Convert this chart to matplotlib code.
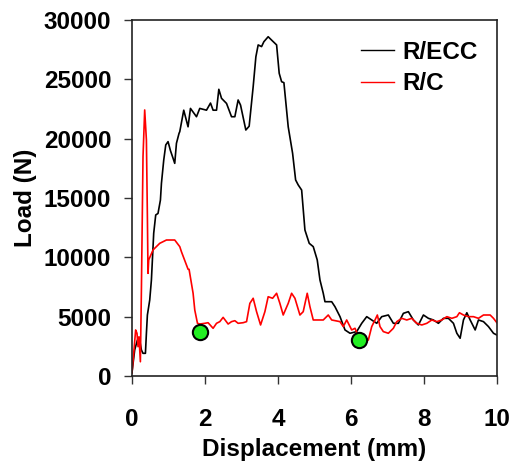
import matplotlib
matplotlib.use("Agg")
import matplotlib.pyplot as plt

plt.rcParams['font.family'] = ['Liberation Sans', 'DejaVu Sans']
plt.rcParams['font.weight'] = 'bold'

# R/ECC curve
ecc_x = [0.0, 0.074, 0.148, 0.184, 0.211, 0.258, 0.302, 0.368, 0.395, 0.422, 0.486, 0.532,
         0.595, 0.650, 0.713, 0.779, 0.807, 0.870, 0.925, 0.988, 1.053, 1.125, 1.171, 1.218,
         1.289, 1.309, 1.418, 1.536, 1.602, 1.767, 1.857, 2.041, 2.151, 2.222, 2.316, 2.379,
         2.453, 2.590, 2.727, 2.818, 2.908, 2.974, 3.119, 3.210, 3.320, 3.394, 3.457, 3.550,
         3.613, 3.731, 3.824, 3.915, 3.962, 4.033, 4.099, 4.162, 4.280, 4.400, 4.483, 4.554,
         4.648, 4.738, 4.856, 4.966, 5.075, 5.150, 5.240, 5.287, 5.471, 5.561, 5.699, 5.836,
         5.973, 6.156, 6.294, 6.431, 6.568, 6.705, 6.842, 7.023, 7.161, 7.298, 7.435, 7.572,
         7.709, 7.846, 7.984, 8.121, 8.258, 8.395, 8.532, 8.669, 8.807, 8.900, 8.990, 9.081,
         9.174, 9.265, 9.402, 9.492, 9.630, 9.767, 9.904, 9.997]
ecc_y = [300, 2190, 3030, 2700, 3030, 2190, 1910, 1910, 3600, 5140, 6400, 8090,
         12030, 13570, 13700, 14830, 16240, 18200, 19470, 19750, 19000, 18350, 17920, 19610,
         20450, 20590, 22400, 21000, 22550, 21850, 22550, 22400, 23000, 22400, 22400, 24160,
         23400, 22970, 21850, 21850, 23260, 22830, 20730, 21050, 24380, 26900, 27900, 27760,
         28170, 28590, 28310, 28040, 27900, 25510, 24800, 24720, 21000, 18770, 16520, 16100,
         15670, 12300, 11180, 10900, 9780, 8090, 6970, 6260, 6260, 5840, 5000, 3880,
         3600, 3740, 4440, 5000, 4720, 4440, 5000, 5140, 4440, 4440, 5280, 5420,
         4720, 4300, 5140, 4860, 4720, 4440, 4860, 4860, 4440, 3600, 3180, 4720,
         5330, 4720, 3880, 4720, 4580, 4160, 3600, 3450]

# R/C curve
rc_x = [0.0, 0.055, 0.100, 0.137, 0.165, 0.192, 0.230, 0.258, 0.302, 0.348, 0.395, 0.422,
        0.439, 0.458, 0.576, 0.760, 0.944, 1.125, 1.171, 1.309, 1.355, 1.536, 1.564, 1.674,
        1.720, 1.794, 1.857, 1.995, 2.085, 2.222, 2.316, 2.406, 2.497, 2.634, 2.727, 2.818,
        2.908, 3.045, 3.139, 3.229, 3.320, 3.413, 3.523, 3.641, 3.731, 3.852, 3.962, 4.052,
        4.143, 4.280, 4.373, 4.464, 4.601, 4.691, 4.801, 4.875, 4.966, 5.240, 5.377, 5.471,
        5.699, 5.789, 5.882, 6.019, 6.110, 6.247, 6.475, 6.568, 6.658, 6.722, 6.795, 6.886,
        7.023, 7.161, 7.254, 7.391, 7.528, 7.665, 7.802, 7.940, 8.077, 8.214, 8.351, 8.488,
        8.626, 8.763, 8.900, 8.971, 9.081, 9.218, 9.355, 9.492, 9.630, 9.813, 9.904, 9.997]
rc_y = [250, 2190, 3880, 3600, 2470, 3300, 1200, 7250, 18480, 22420, 19890, 13420,
        8650, 9780, 10620, 11180, 11460, 11460, 11460, 10900, 10470, 9000, 8990, 6970,
        5560, 4440, 4380, 4440, 4490, 4020, 4440, 4580, 4940, 4380, 4580, 4660,
        4440, 4490, 4580, 6120, 6550, 5420, 4300, 5420, 6680, 6550, 6970, 6120,
        5140, 6120, 6970, 6550, 5140, 5420, 6970, 5840, 4720, 4720, 5140, 4720,
        4580, 4160, 4720, 3880, 4020, 3030, 3030, 4160, 4720, 5140, 4160, 3740,
        3600, 4020, 4580, 4860, 4720, 4860, 4440, 4300, 4440, 4720, 4580, 4720,
        5000, 4860, 5000, 5330, 5140, 5000, 5000, 4860, 5140, 5140, 4860, 4490]

# green markers
mark_x = [1.87, 6.21]
mark_y = [3680, 3030]

xticks = [0, 2, 4, 6, 8, 10]
yticks = [0, 5000, 10000, 15000, 20000, 25000, 30000]

fig = plt.figure(figsize=(5.10, 4.61), dpi=100)
ax = fig.add_axes([0.2588, 0.1844, 0.7157, 0.7722])

ax.plot(ecc_x, ecc_y, color='black', lw=1.2, label='R/ECC')
ax.plot(rc_x, rc_y, color='red', lw=1.2, label='R/C')
ax.plot(mark_x, mark_y, 'o', color='#22ee22', markeredgecolor='black',
        markeredgewidth=1.5, markersize=11, zorder=5)

ax.set_xlim(0, 10)
ax.set_ylim(0, 30000)
ax.set_xticks(xticks)
ax.set_yticks(yticks)
ax.set_xticklabels([str(v) for v in xticks], fontsize=17.5, fontweight='bold')
ax.set_yticklabels([str(v) for v in yticks], fontsize=17.5, fontweight='bold')
ax.tick_params(axis='both', direction='out', length=6, width=1.0, color='#333333')
ax.tick_params(axis='y', pad=9)
ax.tick_params(axis='x', pad=17)
for s in ax.spines.values():
    s.set_linewidth(1.2)
    s.set_color('#222222')

ax.set_xlabel('Displacement (mm)', fontsize=17.5, fontweight='bold', labelpad=5)
ax.set_ylabel('Load (N)', fontsize=17.5, fontweight='bold', labelpad=5)

leg = ax.legend(loc='upper right', frameon=False, fontsize=17.5, handlelength=1.35,
                handletextpad=0.35, labelspacing=0.35, borderaxespad=0.3,
                bbox_to_anchor=(0.995, 0.99))
for t in leg.get_texts():
    t.set_fontweight('bold')
for l in leg.get_lines():
    l.set_linewidth(1.0)

fig.savefig('out.png', dpi=100)
